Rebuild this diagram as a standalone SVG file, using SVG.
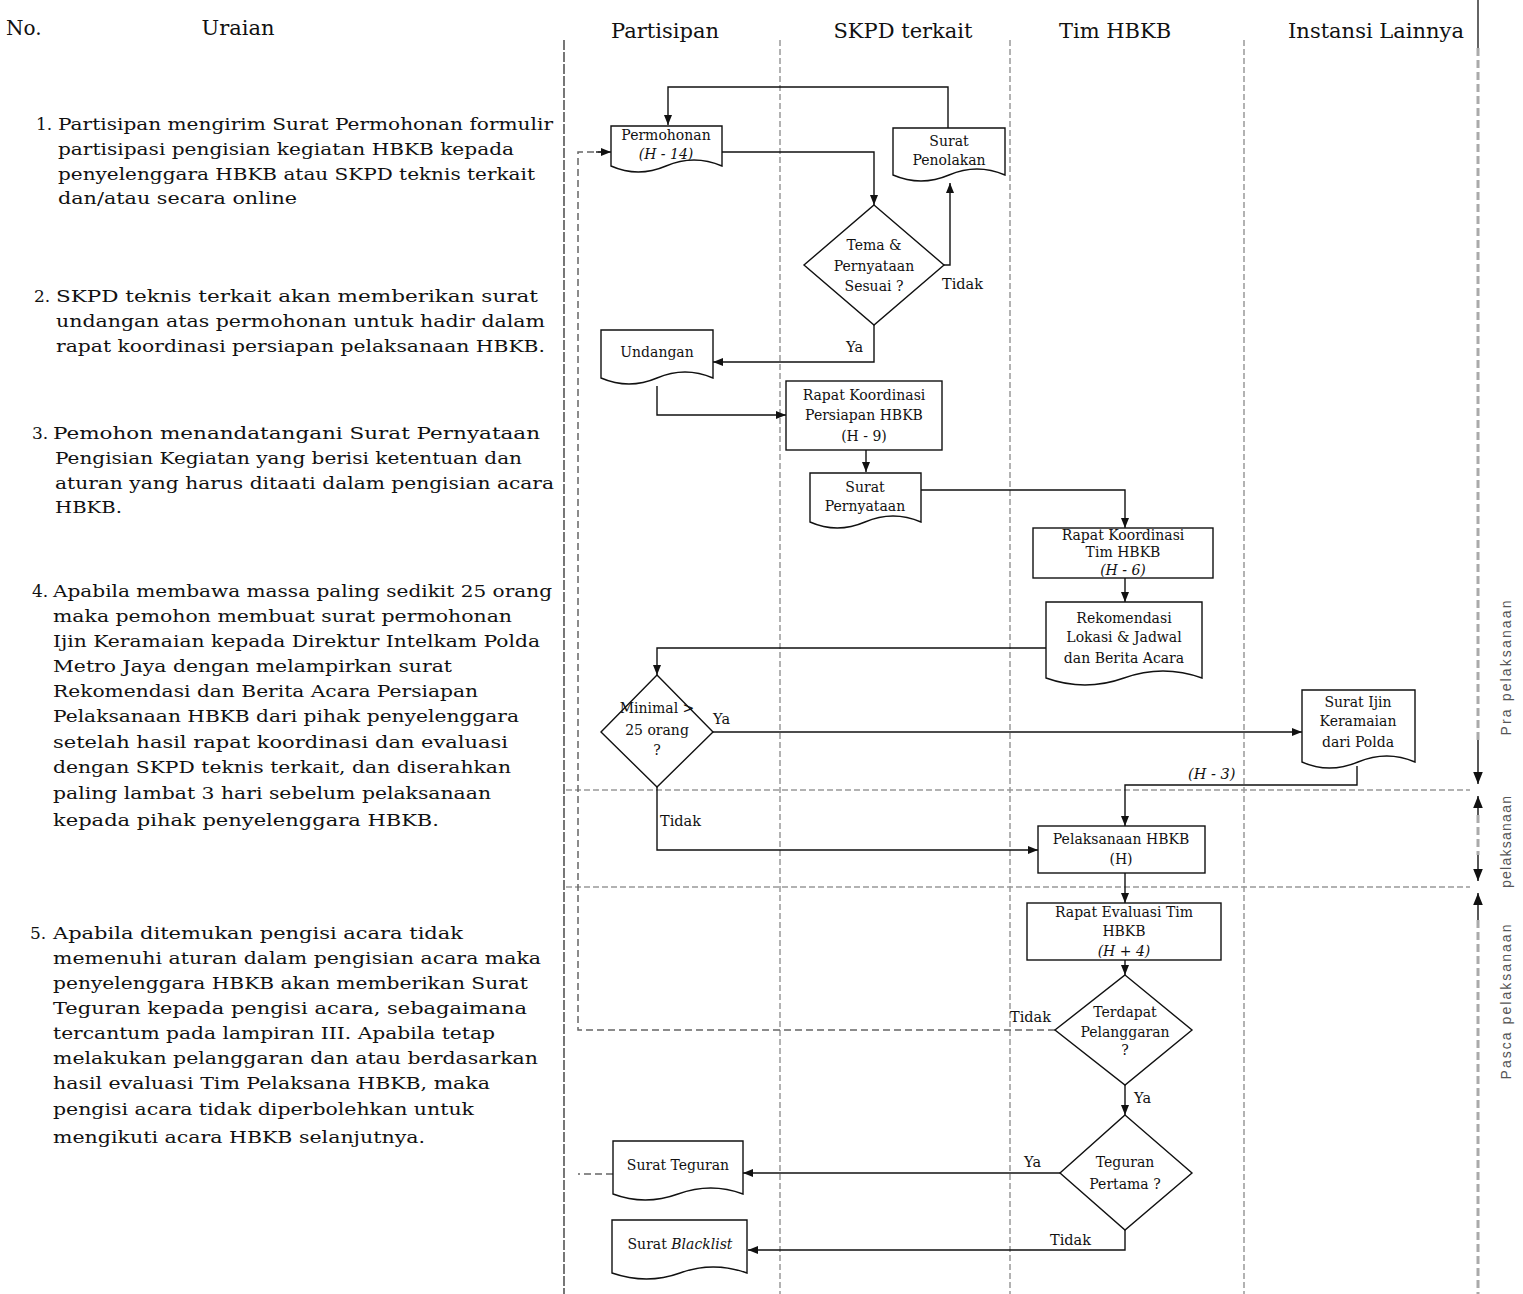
<svg xmlns="http://www.w3.org/2000/svg" width="1523" height="1294" viewBox="0 0 1523 1294">
<style>
text{font-family:"DejaVu Serif","Liberation Serif",serif;fill:#111}
.hd{font-size:21px;text-anchor:middle}
.tx{font-size:17px}
.nd{font-size:14px;text-anchor:middle}
.lb{font-size:14.5px}
.sh{fill:#fff;stroke:#111;stroke-width:1.4}
.cn{fill:none;stroke:#111;stroke-width:1.4}
.dsh{fill:none;stroke:#666;stroke-width:1.5;stroke-dasharray:7 4}
.lane{fill:none;stroke:#999;stroke-width:1.5;stroke-dasharray:6 3}
.ph{font-family:"Liberation Sans",Arial,sans-serif;font-size:14px;fill:#555;text-anchor:middle}
</style>
<defs>
<marker id="ah" viewBox="0 0 10 10" refX="10" refY="5" markerWidth="10" markerHeight="10" orient="auto" markerUnits="userSpaceOnUse"><path d="M0,1 L10,5 L0,9 z" fill="#111"/></marker>
<marker id="ahs" viewBox="0 0 10 10" refX="10" refY="5" markerWidth="12" markerHeight="12" orient="auto-start-reverse" markerUnits="userSpaceOnUse"><path d="M0,1 L10,5 L0,9 z" fill="#111"/></marker>
</defs>
<rect width="1523" height="1294" fill="#fff"/>

<g id="headers">
<text x="6" y="35" style="font-size:20px">No.</text>
<text x="238" y="35" class="hd">Uraian</text>
<text x="665" y="38" class="hd">Partisipan</text>
<text x="903" y="38" class="hd">SKPD terkait</text>
<text x="1115" y="38" class="hd">Tim HBKB</text>
<text x="1376" y="38" class="hd">Instansi Lainnya</text>
</g>

<g id="lanes">
<line x1="564" y1="40" x2="564" y2="1294" stroke="#555" stroke-width="1.6" stroke-dasharray="10 2"/>
<line x1="780" y1="40" x2="780" y2="1294" class="lane"/>
<line x1="1010" y1="40" x2="1010" y2="1294" class="lane"/>
<line x1="1244" y1="40" x2="1244" y2="1294" class="lane"/>
<line x1="1478" y1="0" x2="1478" y2="48" stroke="#111" stroke-width="1.3"/>
<line x1="1478" y1="48" x2="1478" y2="740" stroke="#aaa" stroke-width="3" stroke-dasharray="8 4"/>
<line x1="566" y1="790" x2="1470" y2="790" class="lane"/>
<line x1="566" y1="887" x2="1470" y2="887" class="lane"/>
</g>

<g id="phase-axis">
<line x1="1478" y1="740" x2="1478" y2="784" class="cn" marker-end="url(#ahs)"/>
<line x1="1478" y1="815" x2="1478" y2="855" stroke="#aaa" stroke-width="3" stroke-dasharray="8 4"/>
<line x1="1478" y1="796" x2="1478" y2="815" class="cn" marker-start="url(#ahs)"/>
<line x1="1478" y1="855" x2="1478" y2="881" class="cn" marker-end="url(#ahs)"/>
<line x1="1478" y1="893" x2="1478" y2="920" class="cn" marker-start="url(#ahs)"/>
<line x1="1478" y1="920" x2="1478" y2="1294" stroke="#aaa" stroke-width="3" stroke-dasharray="8 4"/>
<text class="ph" transform="translate(1511,668) rotate(-90)" textLength="135" lengthAdjust="spacing">Pra pelaksanaan</text>
<text class="ph" transform="translate(1511,842) rotate(-90)" textLength="92" lengthAdjust="spacing">pelaksanaan</text>
<text class="ph" transform="translate(1511,1002) rotate(-90)" textLength="155" lengthAdjust="spacing">Pasca pelaksanaan</text>
</g>

<g id="uraian">
<text x="36" y="130" class="tx">1.</text>
<text x="58" y="130" class="tx" textLength="495" lengthAdjust="spacingAndGlyphs">Partisipan mengirim Surat Permohonan formulir</text>
<text x="58" y="155" class="tx" textLength="456" lengthAdjust="spacingAndGlyphs">partisipasi pengisian kegiatan HBKB kepada</text>
<text x="58" y="180" class="tx" textLength="477" lengthAdjust="spacingAndGlyphs">penyelenggara HBKB atau SKPD teknis terkait</text>
<text x="58" y="204" class="tx" textLength="239" lengthAdjust="spacingAndGlyphs">dan/atau secara online</text>

<text x="34" y="302" class="tx">2.</text>
<text x="56" y="302" class="tx" textLength="482" lengthAdjust="spacingAndGlyphs">SKPD teknis terkait akan memberikan surat</text>
<text x="56" y="327" class="tx" textLength="489" lengthAdjust="spacingAndGlyphs">undangan atas permohonan untuk hadir dalam</text>
<text x="56" y="352" class="tx" textLength="489" lengthAdjust="spacingAndGlyphs">rapat koordinasi persiapan pelaksanaan HBKB.</text>

<text x="32" y="439" class="tx">3.</text>
<text x="53" y="439" class="tx" textLength="487" lengthAdjust="spacingAndGlyphs">Pemohon menandatangani Surat Pernyataan</text>
<text x="55" y="464" class="tx" textLength="467" lengthAdjust="spacingAndGlyphs">Pengisian Kegiatan yang berisi ketentuan dan</text>
<text x="55" y="489" class="tx" textLength="499" lengthAdjust="spacingAndGlyphs">aturan yang harus ditaati dalam pengisian acara</text>
<text x="55" y="513" class="tx" textLength="67" lengthAdjust="spacingAndGlyphs">HBKB.</text>

<text x="32" y="597" class="tx">4.</text>
<text x="53" y="597" class="tx" textLength="499" lengthAdjust="spacingAndGlyphs">Apabila membawa massa paling sedikit 25 orang</text>
<text x="53" y="622" class="tx" textLength="459" lengthAdjust="spacingAndGlyphs">maka pemohon membuat surat permohonan</text>
<text x="53" y="647" class="tx" textLength="487" lengthAdjust="spacingAndGlyphs">Ijin Keramaian kepada Direktur Intelkam Polda</text>
<text x="53" y="672" class="tx" textLength="399" lengthAdjust="spacingAndGlyphs">Metro Jaya dengan melampirkan surat</text>
<text x="53" y="697" class="tx" textLength="425" lengthAdjust="spacingAndGlyphs">Rekomendasi dan Berita Acara Persiapan</text>
<text x="53" y="722" class="tx" textLength="466" lengthAdjust="spacingAndGlyphs">Pelaksanaan HBKB dari pihak penyelenggara</text>
<text x="53" y="748" class="tx" textLength="455" lengthAdjust="spacingAndGlyphs">setelah hasil rapat koordinasi dan evaluasi</text>
<text x="53" y="773" class="tx" textLength="458" lengthAdjust="spacingAndGlyphs">dengan SKPD teknis terkait, dan diserahkan</text>
<text x="53" y="799" class="tx" textLength="438" lengthAdjust="spacingAndGlyphs">paling lambat 3 hari sebelum pelaksanaan</text>
<text x="53" y="826" class="tx" textLength="386" lengthAdjust="spacingAndGlyphs">kepada pihak penyelenggara HBKB.</text>

<text x="30" y="939" class="tx">5.</text>
<text x="53" y="939" class="tx" textLength="410" lengthAdjust="spacingAndGlyphs">Apabila ditemukan pengisi acara tidak</text>
<text x="53" y="964" class="tx" textLength="488" lengthAdjust="spacingAndGlyphs">memenuhi aturan dalam pengisian acara maka</text>
<text x="53" y="989" class="tx" textLength="475" lengthAdjust="spacingAndGlyphs">penyelenggara HBKB akan memberikan Surat</text>
<text x="53" y="1014" class="tx" textLength="474" lengthAdjust="spacingAndGlyphs">Teguran kepada pengisi acara, sebagaimana</text>
<text x="53" y="1039" class="tx" textLength="442" lengthAdjust="spacingAndGlyphs">tercantum pada lampiran III. Apabila tetap</text>
<text x="53" y="1064" class="tx" textLength="485" lengthAdjust="spacingAndGlyphs">melakukan pelanggaran dan atau berdasarkan</text>
<text x="53" y="1089" class="tx" textLength="437" lengthAdjust="spacingAndGlyphs">hasil evaluasi Tim Pelaksana HBKB, maka</text>
<text x="53" y="1115" class="tx" textLength="421" lengthAdjust="spacingAndGlyphs">pengisi acara tidak diperbolehkan untuk</text>
<text x="53" y="1143" class="tx" textLength="372" lengthAdjust="spacingAndGlyphs">mengikuti acara HBKB selanjutnya.</text>
</g>

<g id="connectors">
<path class="cn" d="M948,128 V87 H668 V125" marker-end="url(#ah)"/>
<path class="cn" d="M722,152 H874 V205" marker-end="url(#ah)"/>
<path class="cn" d="M944,265 H950 V183" marker-end="url(#ah)"/>
<path class="cn" d="M874,325 V362 H713" marker-end="url(#ah)"/>
<path class="cn" d="M657,386 V415 H786" marker-end="url(#ah)"/>
<path class="cn" d="M866,450 V472" marker-end="url(#ah)"/>
<path class="cn" d="M921,490 H1125 V528" marker-end="url(#ah)"/>
<path class="cn" d="M1125,578 V602" marker-end="url(#ah)"/>
<path class="cn" d="M1046,648 H657 V675" marker-end="url(#ah)"/>
<path class="cn" d="M713,732 H1302" marker-end="url(#ah)"/>
<path class="cn" d="M1357,766 V785 H1125 V826" marker-end="url(#ah)"/>
<path class="cn" d="M657,787 V850 H1038" marker-end="url(#ah)"/>
<path class="cn" d="M1125,873 V903" marker-end="url(#ah)"/>
<path class="cn" d="M1125,960 V975" marker-end="url(#ah)"/>
<path class="dsh" d="M1055,1030 H578 V152 H603"/>
<path class="cn" d="M596,152 H611" marker-end="url(#ah)"/>
<path class="cn" d="M1125,1085 V1115" marker-end="url(#ah)"/>
<path class="cn" d="M1060,1173 H743" marker-end="url(#ah)"/>
<path class="dsh" d="M613,1174 H578"/>
<path class="cn" d="M1125,1230 V1250 H748" marker-end="url(#ah)"/>
<text x="942" y="289" class="lb">Tidak</text>
<text x="846" y="352" class="lb">Ya</text>
<text x="713" y="724" class="lb">Ya</text>
<text x="1188" y="779" class="lb" font-style="italic">(H - 3)</text>
<text x="660" y="826" class="lb">Tidak</text>
<text x="1010" y="1022" class="lb">Tidak</text>
<text x="1134" y="1103" class="lb">Ya</text>
<text x="1024" y="1167" class="lb">Ya</text>
<text x="1050" y="1245" class="lb">Tidak</text>
</g>

<g id="n-permohonan">
<path class="sh" d="M611,126 H722 V166 Q694,154 666,166 T611,166 Z"/>
<text x="666" y="140" class="nd">Permohonan</text>
<text x="666" y="159" class="nd" font-style="italic">(H - 14)</text>
</g>
<g id="n-penolakan">
<path class="sh" d="M893,128 H1005 V175 Q977,163 949,175 T893,175 Z"/>
<text x="949" y="146" class="nd">Surat</text>
<text x="949" y="165" class="nd">Penolakan</text>
</g>
<g id="n-tema">
<path class="sh" d="M874,205 L944,265 L874,325 L804,265 Z"/>
<text x="874" y="250" class="nd" font-size="13">Tema &amp;</text>
<text x="874" y="271" class="nd" font-size="13">Pernyataan</text>
<text x="874" y="291" class="nd" font-size="13">Sesuai ?</text>
</g>
<g id="n-undangan">
<path class="sh" d="M601,330 H713 V378 Q685,366 657,378 T601,378 Z"/>
<text x="657" y="357" class="nd">Undangan</text>
</g>
<g id="n-rapat-persiapan">
<rect class="sh" x="786" y="381" width="156" height="69"/>
<text x="864" y="400" class="nd">Rapat Koordinasi</text>
<text x="864" y="420" class="nd">Persiapan HBKB</text>
<text x="864" y="441" class="nd">(H - 9)</text>
</g>
<g id="n-pernyataan">
<path class="sh" d="M810,473 H921 V522 Q893,510 865,522 T810,522 Z"/>
<text x="865" y="492" class="nd">Surat</text>
<text x="865" y="511" class="nd">Pernyataan</text>
</g>
<g id="n-rapat-tim">
<rect class="sh" x="1033" y="528" width="180" height="50"/>
<text x="1123" y="540" class="nd">Rapat Koordinasi</text>
<text x="1123" y="557" class="nd">Tim HBKB</text>
<text x="1123" y="575" class="nd" font-style="italic">(H - 6)</text>
</g>
<g id="n-rekomendasi">
<path class="sh" d="M1046,602 H1202 V678 Q1163,664 1124,678 T1046,678 Z"/>
<text x="1124" y="623" class="nd">Rekomendasi</text>
<text x="1124" y="642" class="nd">Lokasi &amp; Jadwal</text>
<text x="1124" y="663" class="nd">dan Berita Acara</text>
</g>
<g id="n-minimal">
<path class="sh" d="M657,675 L713,732 L657,787 L601,732 Z"/>
<text x="657" y="713" class="nd" font-size="12">Minimal &gt;</text>
<text x="657" y="735" class="nd" font-size="12.5">25 orang</text>
<text x="657" y="755" class="nd" font-size="12">?</text>
</g>
<g id="n-ijin">
<path class="sh" d="M1302,690 H1415 V762 Q1387,750 1358,762 T1302,762 Z"/>
<text x="1358" y="707" class="nd">Surat Ijin</text>
<text x="1358" y="726" class="nd">Keramaian</text>
<text x="1358" y="747" class="nd">dari Polda</text>
</g>
<g id="n-pelaksanaan">
<rect class="sh" x="1038" y="826" width="167" height="47"/>
<text x="1121" y="844" class="nd">Pelaksanaan HBKB</text>
<text x="1121" y="864" class="nd">(H)</text>
</g>
<g id="n-evaluasi">
<rect class="sh" x="1027" y="903" width="194" height="57"/>
<text x="1124" y="917" class="nd">Rapat Evaluasi Tim</text>
<text x="1124" y="936" class="nd">HBKB</text>
<text x="1124" y="956" class="nd" font-style="italic">(H + 4)</text>
</g>
<g id="n-terdapat">
<path class="sh" d="M1125,975 L1192,1030 L1125,1085 L1055,1030 Z"/>
<text x="1125" y="1017" class="nd">Terdapat</text>
<text x="1125" y="1037" class="nd">Pelanggaran</text>
<text x="1125" y="1055" class="nd">?</text>
</g>
<g id="n-teguran-pertama">
<path class="sh" d="M1125,1115 L1192,1173 L1125,1230 L1060,1173 Z"/>
<text x="1125" y="1167" class="nd" font-size="13">Teguran</text>
<text x="1125" y="1189" class="nd" font-size="13">Pertama ?</text>
</g>
<g id="n-surat-teguran">
<path class="sh" d="M613,1141 H743 V1194 Q711,1182 678,1194 T613,1194 Z"/>
<text x="678" y="1170" class="nd">Surat Teguran</text>
</g>
<g id="n-blacklist">
<path class="sh" d="M612,1220 H747 V1273 Q713,1261 680,1273 T612,1273 Z"/>
<text x="680" y="1249" class="nd">Surat <tspan font-style="italic">Blacklist</tspan></text>
</g>
</svg>
